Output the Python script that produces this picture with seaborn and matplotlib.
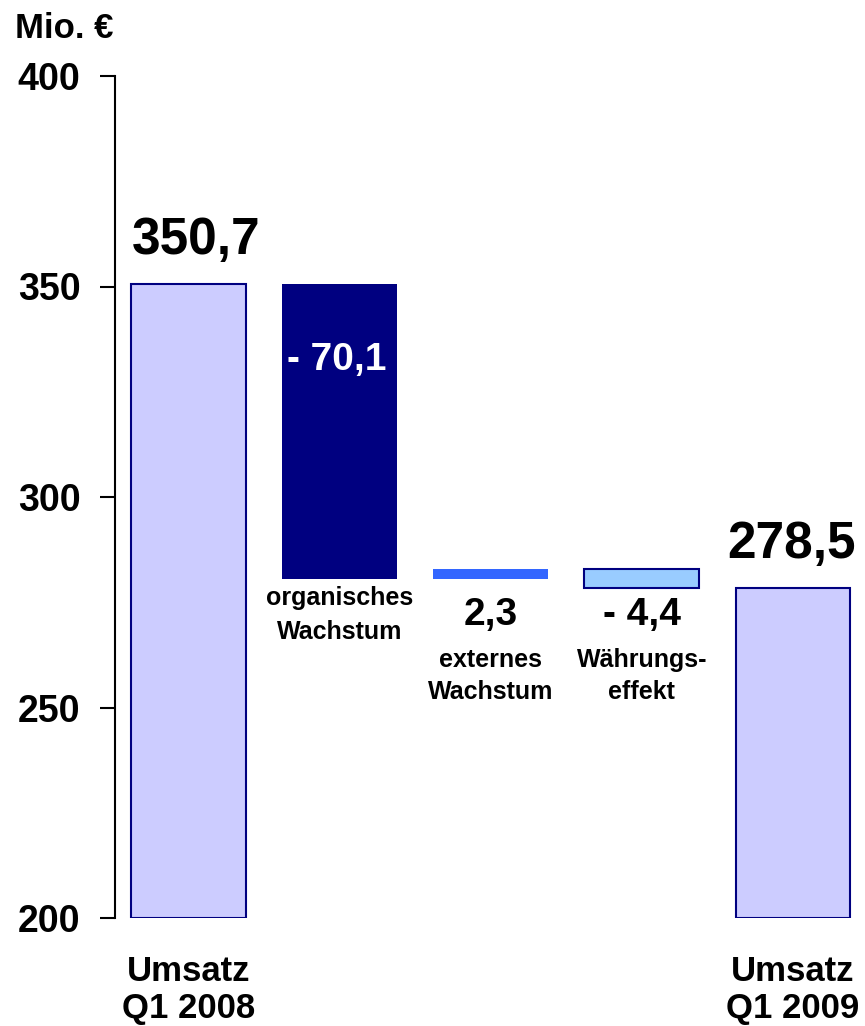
import matplotlib
matplotlib.use("Agg")
import matplotlib.pyplot as plt
import seaborn as sns
import numpy as np
import pandas as pd

sns.set_style("white")
plt.rcParams['font.family'] = ['Liberation Sans', 'DejaVu Sans']
plt.rcParams['font.weight'] = 'bold'
plt.rcParams['text.color'] = 'black'
plt.rcParams['ytick.color'] = 'black'
plt.rcParams['xtick.color'] = 'black'
plt.rcParams['axes.edgecolor'] = 'black'

# ---- data ----
categories = ["Umsatz Q1 2008", "organisches Wachstum", "externes Wachstum", "Währungseffekt", "Umsatz Q1 2009"]
start_value = 350.7
changes = [-70.1, 2.3, -4.4]
end_value = 278.5
value_labels = ["350,7", "- 70,1", "2,3", "- 4,4", "278,5"]
change_names = [["organisches", "Wachstum"], ["externes", "Wachstum"], ["Währungs-", "effekt"]]
total_names = ["Umsatz\nQ1 2008", "Umsatz\nQ1 2009"]
yticks = [200, 250, 300, 350, 400]
y_min = 200

# ---- derived waterfall ----
levels = [start_value]
for c in changes:
    levels.append(levels[-1] + c)
bottoms = [min(levels[i], levels[i + 1]) for i in range(len(changes))]
heights = [abs(c) for c in changes]

fig = plt.figure(figsize=(8.65, 10.26), dpi=100)
ax = fig.add_axes([115 / 865, 108 / 1026, 750 / 865, 842 / 1026])

totals_df = pd.DataFrame({"cat": categories,
                          "val": [start_value, np.nan, np.nan, np.nan, end_value]})
sns.barplot(data=totals_df, x="cat", y="val", order=categories, ax=ax,
            color="#CCCCFF", edgecolor="#000080", linewidth=1.5, width=0.76,
            saturation=1)
# start the total bars at the axis floor so their bottom edge shows
for p in ax.patches:
    h = p.get_height()
    if np.isfinite(h) and h > 0:
        p.set_y(y_min)
        p.set_height(h - y_min)

fill_colors = ["#000080", "#3366FF", "#99CCFF"]
edge_colors = ["#000080", "#3366FF", "#000080"]
edge_widths = [0, 0, 1.5]
for i in range(len(changes)):
    ax.bar(i + 1, heights[i], bottom=bottoms[i], width=0.76,
           color=fill_colors[i], edgecolor=edge_colors[i], linewidth=edge_widths[i])

ax.set_ylim(y_min, 400)
ax.set_xlim(-0.486, 4.476)
ax.set_yticks(yticks)
ax.set_yticklabels([str(t) for t in yticks], fontsize=27, fontweight='bold')
ax.tick_params(axis='y', direction='out', length=11, width=1.5, pad=14, left=True, colors='black')
ax.set_xticks([])
ax.set_xlabel("")
ax.set_ylabel("")
for s in ["top", "right", "bottom"]:
    ax.spines[s].set_visible(False)
ax.spines["left"].set_linewidth(1.5)
ax.spines["left"].set_color("black")

# value labels
ax.text(0.05, 361.0, value_labels[0], ha='center', va='center', fontsize=37, fontweight='bold')
ax.text(0.98, 332.5, value_labels[1], ha='center', va='center', fontsize=28,
        fontweight='bold', color='white')
ax.text(2, 272.0, value_labels[2], ha='center', va='center', fontsize=28, fontweight='bold')
ax.text(3, 272.0, value_labels[3], ha='center', va='center', fontsize=28, fontweight='bold')
ax.text(3.99, 288.6, value_labels[4], ha='center', va='center', fontsize=37, fontweight='bold')

# change names
name_y = [(276.0, 267.9), (261.3, 253.7), (261.3, 253.7)]
for i, (l1, l2) in enumerate(change_names):
    ax.text(i + 1, name_y[i][0], l1, ha='center', va='center', fontsize=18, fontweight='bold')
    ax.text(i + 1, name_y[i][1], l2, ha='center', va='center', fontsize=18, fontweight='bold')

# total names
for xi, name in zip([0, 4], total_names):
    l1, l2 = name.split("\n")
    ax.text(xi, 187.4, l1, ha='center', va='center', fontsize=25, fontweight='bold', clip_on=False)
    ax.text(xi, 178.4, l2, ha='center', va='center', fontsize=25, fontweight='bold', clip_on=False)

fig.text(15 / 865, 1 - 29 / 1026, "Mio. €", ha='left', va='center', fontsize=25, fontweight='bold')

fig.savefig("out.png", dpi=100)
